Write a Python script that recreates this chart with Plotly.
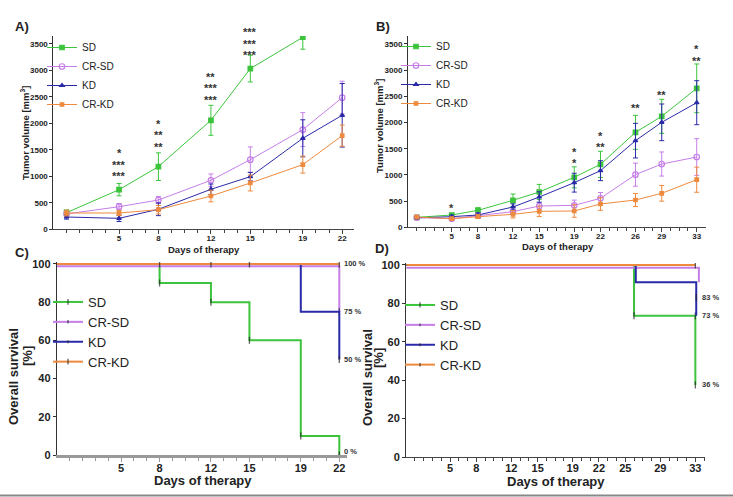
import plotly.graph_objects as go

W, H = 733, 497
FONT = "Arial, Liberation Sans, sans-serif"

# ---------------- data ----------------
groups = ["SD", "CR-SD", "KD", "CR-KD"]
colors = {"SD": "#3cc43c", "CR-SD": "#c57ee8", "KD": "#2a2aa8", "CR-KD": "#ee8a3e"}
symbols = {"SD": "square", "CR-SD": "circle-open", "KD": "triangle-up", "CR-KD": "square"}
msizes = {"SD": 4.5, "CR-SD": 5.5, "KD": 4, "CR-KD": 3.5}

# Panel A – tumour volume
days_A = [1, 5, 8, 12, 15, 19, 22]
vol_A = {
    "SD":    [314, 748, 1183, 2058, 3034, 3626],
    "CR-SD": [290, 427, 553, 925, 1315, 1882, 2486],
    "KD":    [232, 207, 378, 755, 994, 1718, 2153],
    "CR-KD": [308, 308, 370, 629, 874, 1221, 1768],
}
err_A = {
    "SD":    [50, 116, 261, 283, 252, 225],
    "CR-SD": [50, 60, 65, 120, 240, 320, 310],
    "KD":    [40, 60, 120, 100, 80, 350, 600],
    "CR-KD": [55, 50, 80, 110, 150, 160, 200],
}
star_days_A = [5, 8, 12, 15, 19]
star_text_A = [["*", "***", "***"], ["*", "**", "**"], ["**", "***", "***"],
               ["***", "***", "***"], ["***", "***", "***"]]
star_base_A = [1044, 1592, 2480, 3329, 3802]

# Panel B – tumour volume
days_B = [1, 5, 8, 12, 15, 19, 22, 26, 29, 33]
vol_B = {
    "SD":    [190, 235, 324, 515, 674, 954, 1202, 1813, 2118, 2653],
    "CR-SD": [185, 165, 222, 299, 406, 419, 553, 1005, 1208, 1342],
    "KD":    [180, 203, 235, 388, 578, 852, 1081, 1654, 2004, 2379],
    "CR-KD": [195, 165, 203, 248, 305, 311, 445, 521, 649, 909],
}
err_B = {
    "SD":    [20, 30, 50, 120, 145, 200, 250, 325, 325, 465],
    "CR-SD": [20, 25, 35, 40, 60, 100, 110, 220, 230, 350],
    "KD":    [20, 30, 40, 60, 100, 180, 190, 330, 350, 420],
    "CR-KD": [20, 25, 35, 70, 100, 120, 120, 125, 150, 240],
}
star_days_B = [5, 19, 22, 26, 29, 33]
star_text_B = [["*"], ["*", "*"], ["*", "**"], ["**"], ["**"], ["*", "**"]]
star_base_B = [412, 1260, 1571, 2310, 2570, 3219]

# Panel C – survival
surv_C_t = {"SD": [0, 8, 12, 15, 19, 22], "CR-SD": [0, 22], "KD": [0, 19, 22],
            "CR-KD": [0, 8, 12, 15, 22]}
surv_C_s = {"SD": [100, 90, 80, 60, 10, 0], "CR-SD": [98.8, 75], "KD": [100, 75, 50],
            "CR-KD": [100, 100, 100, 100, 100]}
cens_C = {"SD": [0, 1, 1, 1, 1, 1], "CR-SD": [0, 1], "KD": [0, 0, 1], "CR-KD": [0, 1, 1, 1, 1]}
pct_C_text = ["100 %", "75 %", "50 %", "0 %"]
pct_C_y = [100, 75, 50, 2]

# Panel D – survival
surv_D_t = {"SD": [0, 26, 33, 33], "CR-SD": [0, 33.4], "KD": [0, 26.2, 33.1, 33.1],
            "CR-KD": [0, 33]}
surv_D_s = {"SD": [100, 73.5, 73.5, 37.5], "CR-SD": [98.5, 91], "KD": [100, 91, 83, 73.5],
            "CR-KD": [100, 100]}
cens_D = {"SD": [0, 1, 1, 1], "CR-SD": [0, 0], "KD": [0, 0, 1, 0], "CR-KD": [0, 1]}
pct_D_text = ["100 %", "83 %", "73 %", "36 %"]
pct_D_y = [101.5, 82.8, 73.9, 38]

ticks_A = [5, 8, 12, 15, 19, 22]
ticks_B = [5, 8, 12, 15, 19, 22, 26, 29, 33]
ticks_C = [5, 8, 12, 15, 19, 22]
ticks_D = [5, 8, 12, 15, 19, 22, 25, 29, 33]


def px(x):
    return x / W


def py(y):
    return 1 - y / H


fig = go.Figure()

# ---------------- volume panels ----------------
for days, vol, err, xa, ya, leg in [(days_A, vol_A, err_A, "x", "y", "legend"),
                                    (days_B, vol_B, err_B, "x2", "y2", "legend2")]:
    for g in groups:
        n = len(vol[g])
        fig.add_trace(go.Scatter(
            x=days[:n], y=vol[g], mode="lines+markers", name=g,
            line=dict(color=colors[g], width=1),
            marker=dict(symbol=symbols[g], size=msizes[g], color=colors[g],
                        line=dict(color=colors[g], width=1.2)),
            error_y=dict(type="data", array=err[g], color=colors[g], thickness=1, width=2.5),
            xaxis=xa, yaxis=ya, legend=leg,
        ))

# ---------------- survival panels ----------------
for tt, ss, cc, xa, ya, leg in [(surv_C_t, surv_C_s, cens_C, "x3", "y3", "legend3"),
                                (surv_D_t, surv_D_s, cens_D, "x4", "y4", "legend4")]:
    for g in groups:
        fig.add_trace(go.Scatter(
            x=tt[g], y=ss[g], mode="lines+markers", name=g,
            line=dict(color=colors[g], width=2, shape="hv"),
            marker=dict(symbol="line-ns", size=[5 * c for c in cc[g]], color="#222",
                        line=dict(color="#222", width=1.3)),
            xaxis=xa, yaxis=ya, legend=leg,
        ))

# ---------------- axes ----------------
tickfont_small = dict(family=FONT, size=8, color="#222")
tickfont_big = dict(family=FONT, size=11, color="#222")


def xaxis(domain, rng, tickvals, tf, last, anchor, linecolor="#444", lw=1, minor_len=3, standoff=-3):
    return dict(domain=domain, range=rng, tickmode="array", tickvals=tickvals,
                ticktext=["<b>%d</b>" % v for v in tickvals], tickfont=tf,
                ticks="outside", ticklen=minor_len + 1, tickcolor=linecolor,
                ticklabelstandoff=standoff,
                showline=True, linecolor=linecolor, linewidth=lw, showgrid=False,
                zeroline=False, anchor=anchor,
                minor=dict(tickmode="array", tickvals=list(range(1, last + 1)),
                           ticks="outside", ticklen=minor_len, tickcolor=linecolor))


def yaxis(domain, rng, tickvals, tf, anchor, lw=1):
    return dict(domain=domain, range=rng, tickmode="array", tickvals=tickvals,
                ticktext=["<b>%d</b>" % v for v in tickvals], tickfont=tf,
                ticks="outside", ticklen=3, tickcolor="#333",
                showline=True, linecolor="#333", linewidth=lw, showgrid=False,
                zeroline=False, anchor=anchor)


vol_ticks = [0, 500, 1000, 1500, 2000, 2500, 3000, 3500]
surv_ticks = [0, 20, 40, 60, 80, 100]

fig.update_layout(
    xaxis=xaxis([px(53.4), px(354)], [0, 22.9], ticks_A, tickfont_small, 22, "y"),
    yaxis=yaxis([py(229.3), py(36)], [0, 3650], vol_ticks, tickfont_small, "x"),
    xaxis2=xaxis([px(408), px(706)], [0, 34.06], ticks_B, tickfont_small, 33, "y2"),
    yaxis2=yaxis([py(227.3), py(36.1)], [0, 3650], vol_ticks, tickfont_small, "x2"),
    xaxis3=xaxis([px(56.9), px(347)], [0, 22.6], ticks_C, tickfont_big, 22, "y3",
                 linecolor="#999", lw=2.5, minor_len=3, standoff=-3),
    yaxis3=yaxis([py(455), py(262)], [0, 101], surv_ticks, tickfont_big, "x3", lw=1.3),
    xaxis4=xaxis([px(406.2), px(705)], [0, 34.1], ticks_D, tickfont_big, 34, "y4",
                 linecolor="#444", lw=1.3, minor_len=3, standoff=-3),
    yaxis4=yaxis([py(457), py(263)], [0, 101], surv_ticks, tickfont_big, "x4", lw=1.3),
)


# ---------------- legends ----------------
def legend(x, y, size):
    return dict(x=x, y=y, xanchor="left", yanchor="middle", bgcolor="rgba(0,0,0,0)",
                font=dict(family=FONT, size=size, color="#222"), itemwidth=30,
                tracegroupgap=0)


fig.update_layout(
    legend=legend(px(42), py(76), 10),
    legend2=legend(px(396), py(75), 10),
    legend3=legend(px(48), py(332), 13),
    legend4=legend(px(400), py(335), 13),
)

# ---------------- annotations ----------------
ann = []


def text(x, y, s, size, bold=True, angle=0, xanchor="center", yanchor="middle", color="#222"):
    ann.append(dict(x=px(x), y=py(y), xref="paper", yref="paper",
                    text=("<b>%s</b>" % s) if bold else s,
                    showarrow=False, textangle=angle, xanchor=xanchor, yanchor=yanchor,
                    font=dict(family=FONT, size=size, color=color)))


# panel labels
text(22, 26, "A)", 13)
text(383, 26, "B)", 13)
text(22, 252, "C)", 13)
text(382, 249, "D)", 13)
# axis titles
text(204, 249.5, "Days of therapy", 9.5)
text(558, 246.5, "Days of therapy", 9.5)
text(203, 480, "Days of therapy", 13)
text(556, 481, "Days of therapy", 13)
text(25, 133, "Tumor volume [mm<sup>3</sup>]", 9.5, angle=-90)
text(379, 126, "Tumor volume [mm<sup>3</sup>]", 9.5, angle=-90)
text(13, 377, "Overall survival", 13, angle=-90)
text(27, 356, "[%]", 13, angle=-90)
text(367, 378, "Overall survival", 13, angle=-90)
text(378, 358, "[%]", 13, angle=-90)

# significance stars
for days, texts, bases, xr, yr in [(star_days_A, star_text_A, star_base_A, "x", "y"),
                                   (star_days_B, star_text_B, star_base_B, "x2", "y2")]:
    for d, lines, b in zip(days, texts, bases):
        for i, s in enumerate(reversed(lines)):
            ann.append(dict(x=d, y=b, xref=xr, yref=yr, text="<b>%s</b>" % s, showarrow=False,
                            yshift=11.5 * i - 2, font=dict(family=FONT, size=11, color="#333"),
                            xanchor="center", yanchor="middle"))

# percentage labels
for lab, yv in zip(pct_C_text, pct_C_y):
    ann.append(dict(x=22, y=yv, xref="x3", yref="y3", text="<b>%s</b>" % lab, showarrow=False,
                    xanchor="left", xshift=3, font=dict(family=FONT, size=7.5, color="#333")))
for lab, yv in zip(pct_D_text, pct_D_y):
    ann.append(dict(x=33, y=yv, xref="x4", yref="y4", text="<b>%s</b>" % lab, showarrow=False,
                    xanchor="left", xshift=5, font=dict(family=FONT, size=7.5, color="#333")))

fig.update_layout(annotations=ann)

fig.add_shape(type="line", xref="paper", yref="paper", x0=0, x1=1, y0=py(495.5), y1=py(495.5),
              line=dict(color="#888", width=2))

fig.update_layout(width=W, height=H,
                  margin=dict(l=0, r=0, t=0, b=0, autoexpand=False),
                  paper_bgcolor="white", plot_bgcolor="white",
                  font=dict(family=FONT, color="#222"))

fig.write_html("out.html", config={"displayModeBar": False},
               post_script="document.body.style.margin='0';")
